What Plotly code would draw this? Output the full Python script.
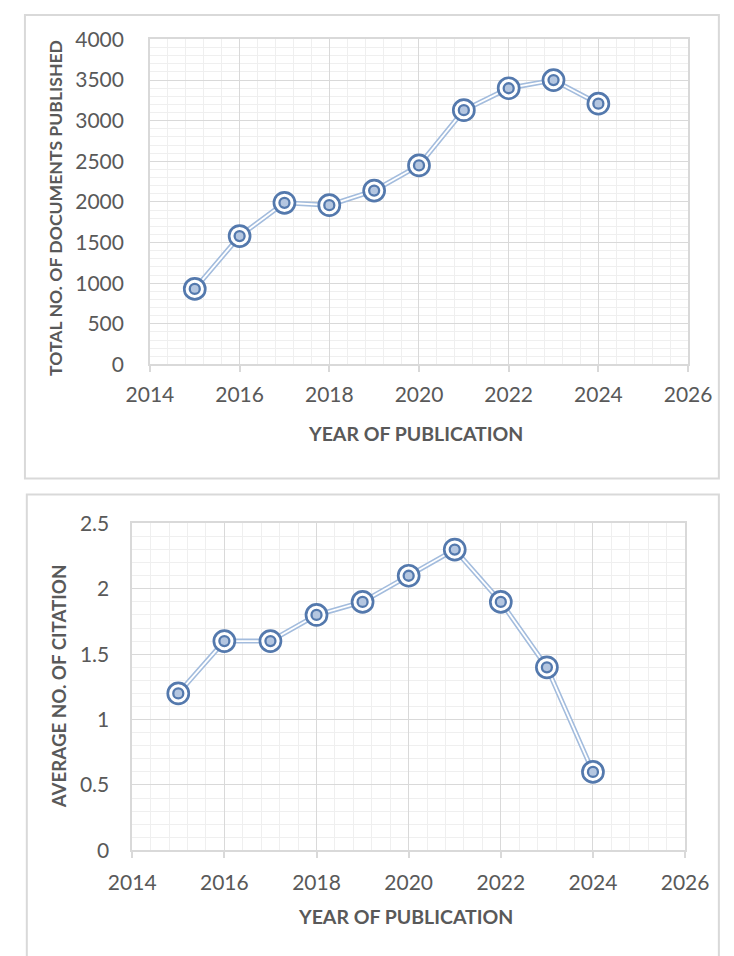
import plotly.graph_objects as go

years = [2015, 2016, 2017, 2018, 2019, 2020, 2021, 2022, 2023, 2024]
documents = [930, 1580, 1990, 1960, 2140, 2450, 3130, 3400, 3500, 3210]
avg_citation = [1.2, 1.6, 1.6, 1.8, 1.9, 2.1, 2.3, 1.9, 1.4, 0.6]

x_title = "YEAR OF PUBLICATION"
y_title_top = "TOTAL NO. OF DOCUMENTS PUBLISHED"
y_title_bottom = "AVERAGE NO. OF CITATION"

W, H = 734, 956
FONT = "Lato, 'Open Sans', sans-serif"
TXT = "#595959"
MAJOR = "#d9d9d9"
MINOR = "#efefef"
RING = "#5479ad"
LINE_OUT = "#a3bcdd"

# the photographed page shows slightly scaled; map wanted picture px -> page px
SX, OX, SY, OY = 0.95, 24.0, 0.974, 13.5


def pgx(v):
    return (v - OX) / SX


def pgy(v):
    return (v - OY) / SY


fig = go.Figure()


def add_series(xref, yref, ys):
    fig.add_trace(go.Scatter(x=years, y=ys, xaxis=xref, yaxis=yref, mode="lines",
                             line=dict(color=LINE_OUT, width=5), hoverinfo="skip", showlegend=False))
    fig.add_trace(go.Scatter(x=years, y=ys, xaxis=xref, yaxis=yref, mode="lines",
                             line=dict(color="white", width=1.8), hoverinfo="skip", showlegend=False))
    fig.add_trace(go.Scatter(x=years, y=ys, xaxis=xref, yaxis=yref, mode="markers",
                             marker=dict(symbol="circle", size=21, color="white",
                                         line=dict(color=RING, width=2.7)),
                             showlegend=False))
    fig.add_trace(go.Scatter(x=years, y=ys, xaxis=xref, yaxis=yref, mode="markers",
                             marker=dict(symbol="circle", size=10, color="#b4c6e0",
                                         line=dict(color=RING, width=2.3)),
                             hoverinfo="skip", showlegend=False))


add_series("x", "y", documents)
add_series("x2", "y2", avg_citation)


def px_x(a, b):
    return [pgx(a) / W, pgx(b) / W]


def px_y(top, bottom):
    return [1 - pgy(bottom) / H, 1 - pgy(top) / H]


TICK = 21
common_x = dict(range=[2014, 2026], dtick=2, tick0=2014, showgrid=True, gridcolor=MAJOR, gridwidth=1,
                minor=dict(dtick=0.4, tick0=2014, showgrid=True, gridcolor=MINOR, gridwidth=1),
                showline=True, linecolor=MAJOR, linewidth=1.5, mirror=True,
                ticks="outside", ticklen=6, tickcolor=MAJOR, tickwidth=1.5,
                tickfont=dict(family=FONT, size=TICK, color=TXT), zeroline=False, fixedrange=True)

fig.update_layout(
    width=W, height=H, margin=dict(l=0, r=0, t=0, b=0),
    paper_bgcolor="white", plot_bgcolor="white",
    xaxis=dict(common_x, domain=px_x(152, 699), anchor="y", ticklabelstandoff=5),
    yaxis=dict(range=[0, 4000], dtick=500, domain=px_y(39, 364), anchor="x",
               showgrid=True, gridcolor=MAJOR,
               minor=dict(dtick=100, showgrid=True, gridcolor=MINOR),
               showline=True, linecolor=MAJOR, linewidth=1.5, mirror=True, zeroline=False,
               ticks="", ticklabelstandoff=20,
               tickfont=dict(family=FONT, size=TICK, color=TXT), fixedrange=True),
    xaxis2=dict(common_x, domain=px_x(134, 696), anchor="y2", ticklabelstandoff=7),
    yaxis2=dict(range=[0, 2.5], dtick=0.5, domain=px_y(523, 850), anchor="x2",
                showgrid=True, gridcolor=MAJOR,
                minor=dict(dtick=0.1, showgrid=True, gridcolor=MINOR),
                showline=True, linecolor=MAJOR, linewidth=1.5, mirror=True, zeroline=False,
                ticks="", ticklabelstandoff=17,
                tickfont=dict(family=FONT, size=TICK, color=TXT), fixedrange=True),
)

# chart frames
fig.add_shape(type="rect", xref="paper", yref="paper", x0=1 / W, x1=743.5 / W,
              y0=1 - pgy(478) / H, y1=1 - 1 / H,
              line=dict(color="#d9d9d9", width=2), fillcolor="rgba(0,0,0,0)", layer="below")
fig.add_shape(type="rect", xref="paper", yref="paper", x0=3 / W, x1=743.5 / W,
              y0=1 - pgy(970) / H, y1=1 - pgy(494) / H,
              line=dict(color="#d9d9d9", width=2), fillcolor="rgba(0,0,0,0)", layer="below")

title_font = dict(family=FONT, size=19.5, color=TXT, weight="bold")
fig.add_annotation(text=x_title, xref="paper", yref="paper", x=pgx(422) / W, y=1 - pgy(433) / H,
                   showarrow=False, font=title_font, xanchor="center", yanchor="middle")
fig.add_annotation(text=x_title, xref="paper", yref="paper", x=pgx(412) / W, y=1 - pgy(916) / H,
                   showarrow=False, font=title_font, xanchor="center", yanchor="middle")
fig.add_annotation(text=y_title_top, xref="paper", yref="paper", x=pgx(56) / W, y=1 - pgy(207) / H,
                   showarrow=False, font=dict(title_font, size=17.6), textangle=-90,
                   xanchor="center", yanchor="middle")
fig.add_annotation(text=y_title_bottom, xref="paper", yref="paper", x=pgx(59.5) / W, y=1 - pgy(686) / H,
                   showarrow=False, font=dict(title_font, size=18.7), textangle=-90,
                   xanchor="center", yanchor="middle")

fig.write_html("out.html", config={"displayModeBar": False},
               post_script="document.body.style.margin='0';document.body.style.overflow='hidden';")
